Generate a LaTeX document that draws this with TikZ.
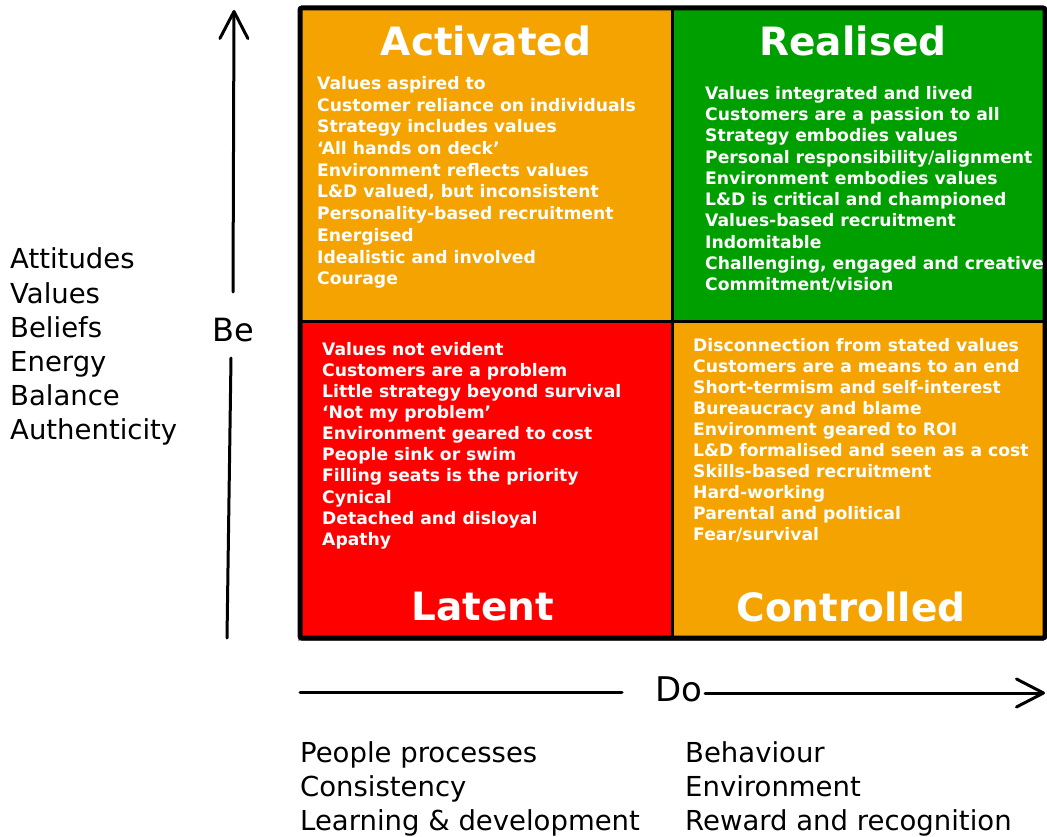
\documentclass[tikz,border=0pt]{standalone}
\usepackage{fontspec}
\setmainfont{DejaVu Sans}
\usetikzlibrary{positioning, arrows.meta}
\definecolor{amberq}{HTML}{F5A300}
\definecolor{greenq}{HTML}{009F00}
\definecolor{redq}{HTML}{FF0000}

\tikzset{
  quadtitle/.style={white, font=\fontsize{39}{39}\selectfont\bfseries, anchor=base, inner sep=0pt},
  quaditem/.style={white, font=\fontsize{17.2}{20}\selectfont\bfseries, anchor=base west, inner sep=0pt},
  sidelabel/.style={black, font=\fontsize{27.5}{27.5}\selectfont, anchor=base west, inner sep=0pt},
  axislabel/.style={black, anchor=base west, inner sep=0pt},
  axis/.style={line width=3pt, line cap=round, line join=round},
  axishead/.style={-{Straight Barb[length=27pt, width=28pt, round]}}
}

\begin{document}
\begin{tikzpicture}[x=1pt, y=-1pt]
  \useasboundingbox (0,0) rectangle (1047,837);
  % Quadranten
  \fill[black!35] (298,11) rectangle (1044,641);
  \fill[amberq] (300,8) rectangle (672,321);
  \fill[greenq] (672,8) rectangle (1045,321);
  \fill[redq] (300,321) rectangle (672,638);
  \fill[amberq] (672,321) rectangle (1045,638);
  \draw[line width=3pt] (672,8) -- (672,638);
  \draw[line width=3pt] (300,321) -- (1045,321);
  \draw[line width=5pt, rounded corners=2pt] (300,8) rectangle (1045,638);
  % Titel
  \node[quadtitle] (activated) at (486,56) {Activated};
  \node[quadtitle] (realised) at (853,56) {Realised};
  \node[quadtitle] (latent) at (483,620) {Latent};
  \node[quadtitle] (controlled) at (851,621) {Controlled};
  % Listen
  \foreach \txt [count=\i] in {Values aspired to, Customer reliance on individuals,
      Strategy includes values, ‘All hands on deck’, Environment reflects values,
      {L\&D valued, but inconsistent}, Personality-based recruitment, Energised,
      Idealistic and involved, Courage}
    \node[quaditem] (act\i) at (317,{89.5+(\i-1)*21.7}) {\txt};
  \foreach \txt [count=\i] in {Values integrated and lived, Customers are a passion to all,
      Strategy embodies values, Personal responsibility/alignment,
      Environment embodies values, L\&D is critical and championed,
      Values-based recruitment, Indomitable, {Challenging, engaged and creative},
      Commitment/vision}
    \node[quaditem] (real\i) at (705,{99.3+(\i-1)*21.27}) {\txt};
  \foreach \txt [count=\i] in {Values not evident, Customers are a problem,
      Little strategy beyond survival, ‘Not my problem’, Environment geared to cost,
      People sink or swim, Filling seats is the priority, Cynical,
      Detached and disloyal, Apathy}
    \node[quaditem] (lat\i) at (322,{355.3+(\i-1)*21.1}) {\txt};
  \foreach \txt [count=\i] in {Disconnection from stated values,
      Customers are a means to an end, Short-termism and self-interest,
      Bureaucracy and blame, Environment geared to ROI,
      L\&D formalised and seen as a cost, Skills-based recruitment, Hard-working,
      Parental and political, Fear/survival}
    \node[quaditem] (ctrl\i) at (693,{351+(\i-1)*21}) {\txt};
  % Achse Be
  \node[axislabel, font=\fontsize{32}{32}\selectfont] (be) at (212,341) {Be};
  \coordinate (beTop) at (234,10);
  \coordinate (beUp) at (233,292);
  \coordinate (beDown) at (231,358);
  \coordinate (beBot) at (227,638);
  \draw[axis, axishead] (beUp) -- (beTop);
  \draw[axis] (beDown) -- (beBot);
  \foreach \txt [count=\i] in {Attitudes, Values, Beliefs, Energy, Balance, Authenticity}
    \node[sidelabel] (be\i) at (10,{269+(\i-1)*34}) {\txt};
  % Achse Do
  \node[axislabel, font=\fontsize{34}{34}\selectfont] (do) at (655,701) {Do};
  \coordinate (doLeft) at (300,692);
  \coordinate (doGap) at (622,692);
  \coordinate (doRight) at (705,693);
  \coordinate (doTip) at (1045,693);
  \draw[axis] (doLeft) -- (doGap);
  \draw[axis, axishead] (doRight) -- (doTip);
  \foreach \txt [count=\i] in {People processes, Consistency, Learning \& development}
    \node[sidelabel] (proc\i) at (300,{762+(\i-1)*34}) {\txt};
  \foreach \txt [count=\i] in {Behaviour, Environment, Reward and recognition}
    \node[sidelabel] (beh\i) at (685,{762+(\i-1)*34}) {\txt};
\end{tikzpicture}
\end{document}
